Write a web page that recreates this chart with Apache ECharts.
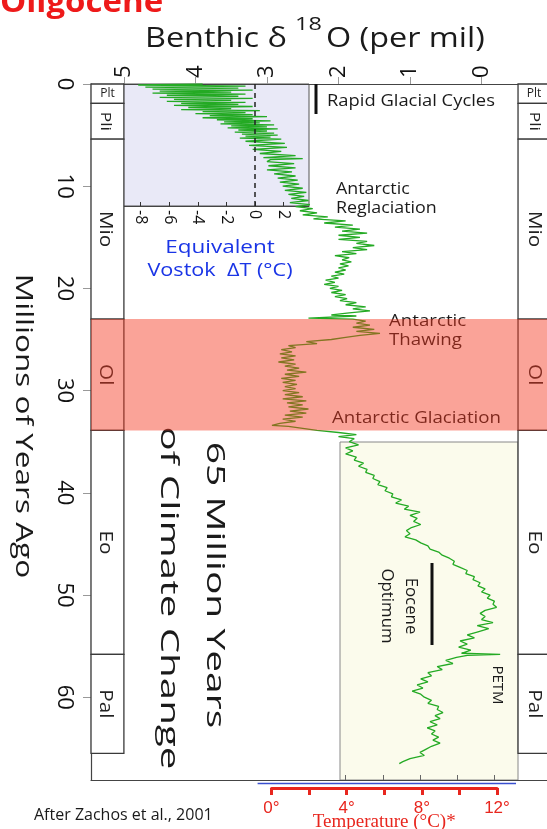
<!DOCTYPE html>
<html><head><meta charset="utf-8">
<script src="https://cdn.jsdelivr.net/npm/echarts@6/dist/echarts.min.js"></script>
<style>html,body{margin:0;padding:0;background:#fff;overflow:hidden}#c{width:547px;height:829px}</style>
</head><body><div id="c"></div>
<script>
// ---------- data ----------
const epochNames = ['Plt', 'Pli', 'Mio', 'Ol', 'Eo', 'Pal'];
const epochStart = [0, 1.9, 5.4, 23.0, 33.9, 55.8];
const epochEnd   = [1.9, 5.4, 23.0, 33.9, 55.8, 65.5];
const oligoceneBand = [23.0, 33.9];
const ageTicks = [0, 10, 20, 30, 40, 50, 60];
const d18oTicks = [0, 1, 2, 3, 4, 5];
const vostokTicks = [-8, -6, -4, -2, 0, 2];
const tempTicks = [0, 2, 4, 6, 8, 10, 12];
const tempLabels = [0, 4, 8, 12];
const insetTempTicks = [4, 6, 8, 10, 12];

// benthic d18O record: [age Ma, d18O per mil]
const pliPleistocene = [
 [0.0,3.9],[0.1,4.8],[0.2,3.3],[0.3,4.7],[0.4,3.4],[0.5,4.6],[0.6,3.2],[0.7,4.5],[0.8,3.5],[0.9,4.6],
 [1.0,3.3],[1.1,4.4],[1.2,3.4],[1.3,4.5],[1.4,3.2],[1.5,4.3],[1.6,3.5],[1.7,4.4],[1.8,3.3],[1.9,4.2],
 [2.0,3.4],[2.1,4.3],[2.2,3.2],[2.3,4.1],[2.4,3.5],[2.5,4.2],[2.6,3.1],[2.7,3.9],[2.8,3.3],[2.9,4.0],
 [3.0,3.2],[3.1,3.8],[3.2,3.0],[3.3,3.9],[3.4,3.2],[3.5,3.7],[3.6,2.95],[3.7,3.6],[3.8,3.1],[3.9,3.65],
 [4.0,2.9],[4.1,3.5],[4.2,3.0],[4.3,3.55],[4.4,2.85],[4.5,3.4],[4.6,3.0],[4.7,3.45],[4.8,2.9],[4.9,3.35],
 [5.0,2.85],[5.1,3.3],[5.2,2.95],[5.3,3.38]
];
const lateMiocene = [
 [5.4,2.8],[5.6,3.3],[5.8,2.75],[6.0,3.25],[6.2,2.72],[6.4,3.2],[6.6,2.8],[6.8,3.1],[7.0,2.6],[7.2,3.05],
 [7.3,2.5],[7.4,2.95],[7.6,3.0],[7.8,2.62],[8.0,2.98],[8.2,2.6],[8.4,3.0],[8.6,2.65],[8.8,2.9],[9.0,2.6],
 [9.2,2.85],[9.4,2.57],[9.6,2.82],[9.8,2.55],[10.0,2.78],[10.2,2.5],[10.4,2.75],[10.6,2.45],[10.8,2.7],[11.0,2.48],
 [11.2,2.66],[11.4,2.42],[11.6,2.68],[11.8,2.4],[12.0,2.6],[12.2,2.36],[12.4,2.54],[12.6,2.3],[12.8,2.5],[13.0,2.15],
 [13.2,2.35],[13.4,1.9],[13.6,2.2],[13.8,1.8],[14.0,2.05]
];
const earlyMiocene = [
 [14.2,1.7],[14.4,1.95],[14.6,1.6],[14.8,2.0],[15.0,1.7],[15.2,2.0],[15.4,1.6],[15.6,1.75],[15.8,1.5],[16.0,1.8],
 [16.2,1.6],[16.4,1.95],[16.6,1.75],[16.8,2.05],[17.0,1.85],[17.2,1.95],[17.4,1.82],[17.6,1.98],[17.8,1.86],[18.0,2.0],
 [18.2,1.9],[18.4,2.05],[18.6,1.92],[18.8,2.1],[19.0,2.0],[19.2,2.18],[19.4,2.05],[19.6,2.2],[19.8,2.0],[20.0,2.12],
 [20.2,1.95],[20.4,2.1],[20.6,1.9],[20.8,2.05],[21.0,1.88],[21.2,1.98],[21.4,1.75],[21.6,1.9],[21.8,1.62],[22.0,1.8],
 [22.2,1.56],[22.4,1.85],[22.6,2.1],[22.7,1.75],[22.9,2.42],[23.0,1.8],[23.2,1.62]
];
const oligocene = [
 [23.4,1.75],[23.6,1.56],[23.8,1.8],[24.0,1.5],[24.2,1.75],[24.4,1.42],[24.6,1.7],[24.8,1.9],[25.0,2.1],[25.2,2.45],
 [25.4,2.3],[25.6,2.7],[25.8,2.6],[26.0,2.8],[26.2,2.65],[26.4,2.82],[26.6,2.6],[26.8,2.8],[27.0,2.62],[27.2,2.84],
 [27.4,2.6],[27.6,2.75],[27.8,2.55],[28.0,2.72],[28.2,2.45],[28.4,2.75],[28.6,2.55],[28.8,2.8],[29.0,2.6],[29.2,2.78],
 [29.4,2.58],[29.6,2.75],[29.8,2.6],[30.0,2.78],[30.2,2.55],[30.4,2.75],[30.6,2.5],[30.8,2.78],[31.0,2.45],[31.2,2.72],
 [31.4,2.5],[31.6,2.7],[31.8,2.42],[32.0,2.68],[32.2,2.45],[32.4,2.75],[32.6,2.5],[32.8,2.78],[33.0,2.6],[33.2,2.82],
 [33.4,2.93],[33.5,2.7],[33.7,2.5],[33.9,2.3],[34.1,2.0]
];
const eocene = [
 [34.3,1.75],[34.5,2.0],[34.7,1.78],[35.0,1.85],[35.3,1.72],[35.6,1.9],[35.9,1.8],[36.2,1.9],[36.5,1.75],[36.8,1.78],
 [37.1,1.65],[37.4,1.72],[37.7,1.6],[38.0,1.62],[38.3,1.5],[38.6,1.52],[38.9,1.42],[39.2,1.45],[39.5,1.32],[39.8,1.35],
 [40.1,1.24],[40.4,1.26],[40.7,1.12],[41.0,1.2],[41.3,1.02],[41.6,1.08],[41.9,0.86],[42.2,1.0],[42.5,0.9],[42.8,0.95],
 [43.1,0.85],[43.4,0.98],[43.7,1.05],[44.0,1.0],[44.3,1.07],[44.6,0.92],[44.9,0.85],[45.2,0.75],[45.5,0.72],[45.8,0.6],
 [46.1,0.55],[46.4,0.45],[46.7,0.38],[47.0,0.4],[47.3,0.3],[47.6,0.2],[47.9,0.22],[48.2,0.1],[48.5,0.12],[48.8,0.02],
 [49.1,0.05],[49.4,-0.05],[49.7,0.0],[50.0,-0.12],[50.3,-0.08],[50.6,-0.18],[50.9,-0.16],[51.2,-0.21],[51.5,-0.05],[51.8,0.02],
 [52.1,-0.05],[52.4,0.0],[52.7,-0.16],[53.0,0.06],[53.3,-0.1],[53.6,0.05],[53.9,0.2],[54.2,0.1],[54.5,0.3],[54.8,0.2],
 [55.1,0.32],[55.4,0.15],[55.7,0.28],[55.8,-0.26],[55.9,0.2]
];
const paleocene = [
 [56.1,0.35],[56.4,0.5],[56.7,0.4],[57.0,0.62],[57.3,0.55],[57.6,0.75],[57.9,0.7],[58.2,0.85],[58.5,0.75],[58.8,0.9],
 [59.1,0.82],[59.4,0.97],[59.7,0.85],[60.0,0.8],[60.3,0.7],[60.6,0.75],[60.9,0.6],[61.2,0.62],[61.5,0.54],[61.8,0.65],
 [62.1,0.58],[62.4,0.72],[62.7,0.62],[63.0,0.76],[63.3,0.65],[63.6,0.7],[63.9,0.6],[64.2,0.68],[64.5,0.58],[64.8,0.7],
 [65.1,0.78],[65.4,0.86],[65.7,0.8],[66.0,1.0],[66.3,1.1],[66.5,1.15]
];

// ---------- chart ----------
const FONT = '"Open Sans", "Noto Sans", sans-serif';
const record = [].concat(pliPleistocene, lateMiocene, earlyMiocene, oligocene, eocene, paleocene)
  .map(p => [p[1], p[0]]);

const epochData = [];
epochNames.forEach((n, i) => {
  epochData.push([0, epochStart[i], epochEnd[i], i, 0]);
  epochData.push([0, epochStart[i], epochEnd[i], i, 1]);
});

const chart = echarts.init(document.getElementById('c'), null, {renderer: 'canvas'});

function renderEpoch(params, api) {
  const cs = params.coordSys;
  const y0 = api.coord([0, api.value(1)])[1];
  const y1 = api.coord([0, api.value(2)])[1];
  const name = epochNames[api.value(3)];
  const side = api.value(4);
  const xl = side === 0 ? cs.x : api.coord([-0.51, 0])[0];
  const xr = side === 0 ? api.coord([5.0, 0])[0] : cs.x + cs.width + 6;
  const small = name === 'Plt';
  const cx = side === 0 ? (xl + xr) / 2 - (small ? 0 : 2) : xl + 16;
  return {
    type: 'group',
    children: [
      {type: 'rect', shape: {x: xl, y: y0, width: xr - xl, height: y1 - y0},
       style: {fill: '#ffffff', stroke: '#3a3a3a', lineWidth: 1.3}},
      {type: 'text', x: cx, y: (y0 + y1) / 2,
       rotation: small ? 0 : -Math.PI / 2, scaleX: small ? 1 : 1.15,
       style: {text: name, fontSize: small ? 12 : (name === 'Pli' ? 15 : 18), fontFamily: FONT,
               fill: '#222', align: 'center', verticalAlign: 'middle',
               textAlign: 'center', textVerticalAlign: 'middle'}}
    ]
  };
}

function renderBand(params, api) {
  const cs = params.coordSys;
  const y0 = api.coord([0, api.value(1)])[1];
  const y1 = api.coord([0, api.value(2)])[1];
  return {type: 'rect', shape: {x: cs.x, y: y0, width: cs.width, height: y1 - y0},
          style: {fill: 'rgba(245,55,30,0.46)'}};
}

function txt(text, x, y, size, opts) {
  opts = opts || {};
  return {
    type: 'text', x: x, y: y, z: 5,
    rotation: opts.rot || 0, scaleX: opts.sx || 1,
    style: {
      text: text, fontSize: size, fontFamily: opts.family || FONT,
      fontWeight: opts.weight || 'normal', fill: opts.color || '#1a1a1a',
      lineHeight: opts.lh, align: opts.align || 'left', verticalAlign: 'middle',
      textAlign: opts.align || 'left', textVerticalAlign: 'middle'
    }
  };
}
const CW = -Math.PI / 2;

const option = {
  animation: false,
  backgroundColor: '#ffffff',
  grid: [
    {left: 91, right: 0, top: 84, bottom: 49, outerBoundsMode: 'none'},
    {left: 123, top: 84, width: 186, height: 122, show: true, backgroundColor: '#e9e9f7', borderColor: '#555', borderWidth: 1, outerBoundsMode: 'none'},
    {left: 340, top: 442, width: 178, height: 338, show: true, backgroundColor: '#fbfbec', borderColor: '#888', borderWidth: 1, outerBoundsMode: 'none'},
    {left: 271.5, width: 225.5, top: 700, bottom: 41, outerBoundsMode: 'none'}
  ],
  xAxis: [
    {gridIndex: 0, type: 'value', position: 'top', inverse: true, min: -0.915, max: 5.46,
     axisLine: {show: true, onZero: false, lineStyle: {color: '#444', width: 1.2}},
     axisTick: {show: true, customValues: d18oTicks, length: 7, lineStyle: {color: '#999'}},
     axisLabel: {customValues: d18oTicks, rotate: -90, fontSize: 22, fontFamily: FONT, color: '#111', margin: 6},
     splitLine: {show: false}},
    {gridIndex: 0, type: 'value', position: 'bottom', inverse: true, min: -0.915, max: 5.46,
     axisLine: {show: true, onZero: false, lineStyle: {color: '#444', width: 1.2}},
     axisTick: {show: false}, axisLabel: {show: false}, splitLine: {show: false}},
    {gridIndex: 1, type: 'value', position: 'bottom', min: -9.23, max: 3.78,
     axisLine: {show: true, onZero: false, lineStyle: {color: '#444'}},
     axisTick: {show: true, inside: true, length: 4, customValues: vostokTicks, lineStyle: {color: '#333'}},
     axisLabel: {customValues: vostokTicks, rotate: -90, fontSize: 16, fontFamily: FONT, color: '#111', margin: 4},
     splitLine: {show: false}},
    {gridIndex: 2, type: 'value', position: 'bottom', min: 3.70, max: 13.27,
     axisLine: {show: false, onZero: false},
     axisTick: {show: true, inside: true, length: 5, customValues: insetTempTicks, lineStyle: {color: '#666'}},
     axisLabel: {show: false}, splitLine: {show: false}},
    {gridIndex: 3, type: 'value', position: 'bottom', min: 0, max: 12,
     axisLine: {show: true, onZero: false, lineStyle: {color: '#e8261e', width: 3}},
     axisTick: {show: true, customValues: tempTicks, length: 7, lineStyle: {color: '#e8261e', width: 3}},
     axisLabel: {customValues: tempLabels, formatter: v => v + '°', color: '#e8261e', fontSize: 17,
                 fontFamily: '"Liberation Sans", Arial, sans-serif', margin: 12},
     name: 'Temperature (°C)*', nameLocation: 'middle', nameGap: 25, nameMoveOverlap: false,
     nameTextStyle: {color: '#e8261e', fontFamily: '"Liberation Serif", serif', fontSize: 19},
     splitLine: {show: false}}
  ],
  yAxis: [
    {gridIndex: 0, type: 'value', inverse: true, min: 0, max: 68.1,
     axisLine: {show: true, onZero: false, lineStyle: {color: '#444', width: 1.2}},
     axisTick: {show: true, customValues: ageTicks, length: 8, lineStyle: {color: '#999'}},
     axisLabel: {customValues: ageTicks, rotate: -90, fontSize: 22, fontFamily: FONT, color: '#111', margin: 16},
     splitLine: {show: false}},
    {gridIndex: 1, type: 'value', min: 0, max: 1, show: false},
    {gridIndex: 2, type: 'value', min: 0, max: 1, show: false},
    {gridIndex: 3, type: 'value', min: 0, max: 1, show: false}
  ],
  series: [
    {type: 'line', name: 'benthic', xAxisIndex: 0, yAxisIndex: 0, data: record, z: 3,
     showSymbol: false, symbol: 'none', lineStyle: {color: '#24aa24', width: 1.3}},
    {type: 'custom', name: 'epochs', xAxisIndex: 0, yAxisIndex: 0, data: epochData, z: 4,
     encode: {x: 0, y: [1, 2]}, renderItem: renderEpoch},
    {type: 'line', name: 'vostok0', xAxisIndex: 2, yAxisIndex: 1, data: [], z: 3,
     markLine: {silent: true, symbol: 'none', label: {show: false},
                lineStyle: {color: '#222', type: [5, 4], width: 1.5}, data: [{xAxis: 0}]}},
    {type: 'custom', name: 'oligoceneBand', xAxisIndex: 0, yAxisIndex: 0, z: 10,
     data: [[0, oligoceneBand[0], oligoceneBand[1]]], encode: {x: 0, y: [1, 2]}, renderItem: renderBand}
  ],
  graphic: [
    txt('Oligocene', 0, 3, 30, {weight: 'bold', color: '#ee1a1a', sx: 1.1}),
    txt('Benthic δ', 145, 39, 27, {sx: 1.2}),
    txt('18', 295, 25, 18, {sx: 1.3}),
    txt('O (per mil)', 326, 39, 27, {sx: 1.2}),
    txt('Millions of Years Ago', 23, 426, 23, {rot: CW, sx: 1.37, align: 'center'}),
    txt('65 Million Years', 214.5, 585, 25, {rot: CW, sx: 1.56, align: 'center'}),
    txt('of Climate Change', 168, 598, 26, {rot: CW, sx: 1.55, align: 'center'}),
    txt('Rapid Glacial Cycles', 327, 101, 17, {sx: 1.08}),
    {type: 'line', z: 5, shape: {x1: 316, y1: 84, x2: 316, y2: 114}, style: {stroke: '#111', lineWidth: 3}},
    txt('Antarctic\nReglaciation', 336, 198.5, 17, {lh: 19, sx: 1.05}),
    txt('Antarctic\nThawing', 389, 330.5, 17, {lh: 19, sx: 1.1}),
    txt('Antarctic Glaciation', 332, 418, 17, {sx: 1.1}),
    txt('Equivalent', 220, 247.5, 18, {sx: 1.25, align: 'center', color: '#1a35e6'}),
    txt('Vostok  ΔT (°C)', 220, 270.5, 18, {sx: 1.2, align: 'center', color: '#1a35e6'}),
    txt('Eocene\nOptimum', 398.5, 606, 16, {rot: CW, lh: 24, align: 'center', sx: 1.05}),
    {type: 'line', z: 5, shape: {x1: 432, y1: 563, x2: 432, y2: 645}, style: {stroke: '#111', lineWidth: 3}},
    txt('PETM', 497, 685, 15, {rot: CW, align: 'center'}),
    txt('After Zachos et al., 2001', 34, 815, 16),
    {type: 'line', z: 5, shape: {x1: 257.6, y1: 783.6, x2: 516, y2: 783.6}, style: {stroke: '#3a4fd0', lineWidth: 1.5}}
  ]
};
chart.setOption(option);
</script></body></html>
